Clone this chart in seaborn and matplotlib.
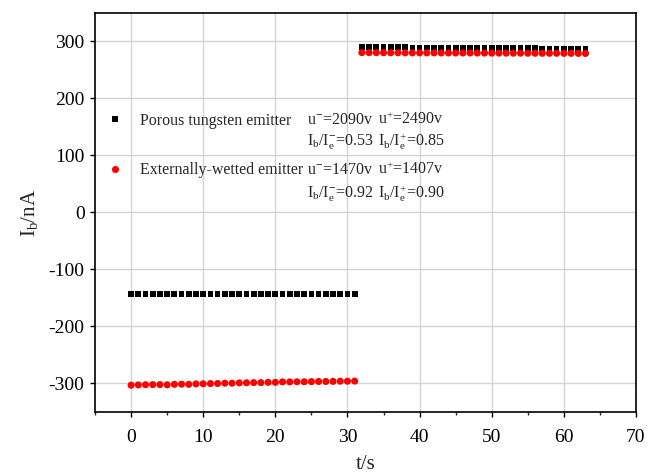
import matplotlib
matplotlib.use("Agg")
import matplotlib.pyplot as plt
import seaborn as sns
import pandas as pd
from matplotlib.ticker import MultipleLocator

# ---- data ----
t_neg = list(range(0, 32))
t_pos = list(range(32, 64))
porous_neg = [-143.0, -143.0, -143.2, -143.0, -143.1, -143.0, -143.0, -143.2, -143.0, -143.1,
              -143.0, -143.0, -143.1, -143.0, -143.0, -143.2, -143.0, -143.0, -143.1, -143.0,
              -143.0, -143.0, -143.1, -143.0, -143.0, -143.0, -143.1, -143.0, -143.0, -143.0,
              -143.0, -143.0]
wetted_neg = [-303.0, -302.5, -302.2, -302.0, -302.0, -302.3, -301.5, -301.2, -301.5, -300.8,
              -300.5, -300.2, -300.0, -299.5, -299.5, -299.0, -298.8, -298.5, -298.5, -298.0,
              -298.0, -297.2, -297.2, -297.0, -297.0, -296.8, -296.5, -296.5, -296.3, -296.0,
              -296.0, -295.8]
porous_pos = [290.5, 290.3, 290.2, 290.0, 290.0, 289.8, 289.8, 289.5, 289.5, 289.4,
              289.2, 289.0, 289.0, 289.0, 288.8, 288.8, 288.6, 288.5, 288.5, 288.4,
              288.3, 288.2, 288.0, 288.0, 288.0, 287.8, 287.8, 287.6, 287.5, 287.5,
              287.3, 287.0]
wetted_pos = [280.5, 280.4, 280.3, 280.3, 280.2, 280.2, 280.1, 280.0, 280.0, 280.0,
              280.0, 279.9, 279.9, 279.8, 279.8, 279.8, 279.7, 279.7, 279.6, 279.6,
              279.5, 279.5, 279.5, 279.4, 279.4, 279.3, 279.3, 279.3, 279.2, 279.2,
              279.1, 279.0]

series_names = ["Porous tungsten emitter", "Externally-wetted emitter"]
u_neg_labels = [r"u$^{\mathsf{-}}$=2090v", r"u$^{\mathsf{-}}$=1470v"]
u_pos_labels = [r"u$^{+}$=2490v", r"u$^{+}$=1407v"]
ratio_neg_labels = [r"I$_{\mathrm{b}}$/I$_{\mathrm{e}}^{\mathsf{-}}$=0.53", r"I$_{\mathrm{b}}$/I$_{\mathrm{e}}^{\mathsf{-}}$=0.92"]
ratio_pos_labels = [r"I$_{\mathrm{b}}$/I$_{\mathrm{e}}^{+}$=0.85", r"I$_{\mathrm{b}}$/I$_{\mathrm{e}}^{+}$=0.90"]
x_ticks = [0, 10, 20, 30, 40, 50, 60, 70]
y_ticks = [-300, -200, -100, 0, 100, 200, 300]

# ---- table ----
rows = []
for t, v in zip(t_neg + t_pos, porous_neg + porous_pos):
    rows.append({"t": t, "I": v, "emitter": series_names[0]})
for t, v in zip(t_neg + t_pos, wetted_neg + wetted_pos):
    rows.append({"t": t, "I": v, "emitter": series_names[1]})
df = pd.DataFrame(rows)

sns.set_theme(style="ticks")
plt.rcParams["font.family"] = ["Liberation Serif", "DejaVu Serif"]
plt.rcParams["mathtext.fontset"] = "custom"
plt.rcParams["mathtext.rm"] = "Liberation Serif"
plt.rcParams["mathtext.it"] = "Liberation Serif:italic"
plt.rcParams["mathtext.sf"] = "Liberation Sans"
plt.rcParams["mathtext.default"] = "rm"
plt.rcParams["axes.unicode_minus"] = False

fig, ax = plt.subplots(figsize=(6.57, 4.76), dpi=100)
fig.subplots_adjust(left=0.1446, right=0.968, top=0.9727, bottom=0.1345)

sns.scatterplot(data=df, x="t", y="I", hue="emitter", style="emitter", size="emitter",
                palette={series_names[0]: "black", series_names[1]: "#ff0000"},
                markers={series_names[0]: "s", series_names[1]: "o"},
                sizes={series_names[0]: 17, series_names[1]: 26},
                linewidth=0, ax=ax, zorder=3)

ax.set_xlim(-5, 70)
ax.set_ylim(-350, 350)
ax.set_xticks(x_ticks)
ax.set_yticks(y_ticks)
ax.xaxis.set_minor_locator(MultipleLocator(5))
ax.grid(True, which="major", color="#d3d3d3", linewidth=1.0, zorder=0)
ax.set_axisbelow(True)
for sp in ax.spines.values():
    sp.set_visible(True)
    sp.set_color("black")
    sp.set_linewidth(1.2)
ax.tick_params(axis="both", which="major", direction="out", length=3.5, width=1.0,
               labelsize=14, colors="black")
ax.tick_params(axis="x", which="major", pad=9)
ax.tick_params(axis="y", which="major", pad=4)
ax.tick_params(axis="x", which="minor", direction="out", length=2.5, width=1.0)
ax.set_xlabel("t/s", fontsize=15, labelpad=6)
ax.set_ylabel(r"I$_{\mathrm{b}}$/nA", fontsize=15, labelpad=6)

sns.move_legend(ax, "upper left", bbox_to_anchor=(0.022, 0.75), frameon=False,
                title=None, fontsize=11.5, handlelength=1.0, handletextpad=1.05,
                labelspacing=2.1, borderpad=0, borderaxespad=0, markerscale=1.0)

fs = 11.5
for i in range(2):
    y1 = [0.732, 0.607][i]
    y2 = [0.678, 0.547][i]
    ax.text(0.392, y1, u_neg_labels[i], transform=ax.transAxes, fontsize=fs, va="center", ha="left")
    ax.text(0.523, y1, u_pos_labels[i], transform=ax.transAxes, fontsize=fs, va="center", ha="left")
    ax.text(0.392, y2, ratio_neg_labels[i], transform=ax.transAxes, fontsize=fs, va="center", ha="left")
    ax.text(0.523, y2, ratio_pos_labels[i], transform=ax.transAxes, fontsize=fs, va="center", ha="left")

fig.savefig("out.png", dpi=100)
